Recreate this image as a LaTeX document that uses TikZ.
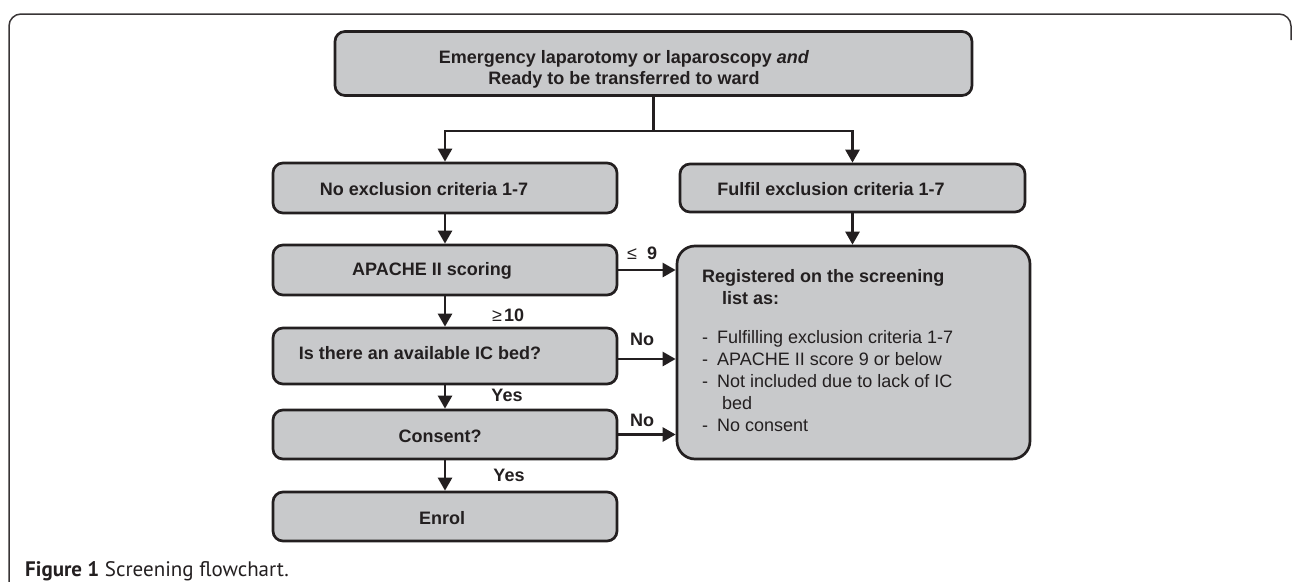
\documentclass[tikz,border=0pt]{standalone}
\usepackage{fontspec}
\setmainfont{Liberation Sans}
\newfontfamily\captionfont{PT Sans}
\usetikzlibrary{arrows.meta}
\definecolor{boxgray}{RGB}{200,201,203}
\definecolor{inkdark}{RGB}{35,31,32}

\begin{document}
\begin{tikzpicture}[x=1pt,y=-1pt,
  box/.style={draw=inkdark,fill=boxgray,line width=2.7pt,rounded corners=10pt,inner sep=0pt},
  txt/.style={font=\fontsize{18}{21}\selectfont\bfseries,text=inkdark,inner sep=0pt},
  arr/.style={draw=inkdark,line width=2.6pt,-{Triangle[width=14pt,length=13pt]}}]
  \useasboundingbox (0,0) rectangle (1292,581);

  % frame
  \draw[line width=1.5pt,draw=inkdark!90,rounded corners=12pt] (9,590) -- (9,14) -- (1291,14) -- (1291,40);

  % boxes
  \node[box,minimum width=637pt,minimum height=64pt] (entry) at (653.5,63.5) {};
  \node[box,minimum width=344pt,minimum height=50pt] (noexcl) at (445,188) {};
  \node[box,minimum width=345pt,minimum height=48pt] (fulfil) at (852.5,188) {};
  \node[box,minimum width=344pt,minimum height=50pt] (apache) at (445,270) {};
  \node[box,minimum width=344pt,minimum height=56pt] (icbed) at (445,356) {};
  \node[box,minimum width=344pt,minimum height=49pt] (consent) at (445,434.5) {};
  \node[box,minimum width=344pt,minimum height=49pt] (enrol) at (445,516.5) {};
  \node[box,rounded corners=18pt,minimum width=353pt,minimum height=213pt] (register) at (853.5,352.5) {};

  % box texts
  \node[txt,align=center] (entrytxt) at (624,69) {Emergency laparotomy or laparoscopy \textit{and}\\Ready to be transferred to ward};
  \node[txt] (noexcltxt) at (424,189) {No exclusion criteria 1-7};
  \node[txt] (fulfiltxt) at (831,189) {Fulfil exclusion criteria 1-7};
  \node[txt] (apachetxt) at (432,271) {APACHE II scoring};
  \node[txt] (icbedtxt) at (420,353) {Is there an available IC bed?};
  \node[txt] (consenttxt) at (440,436) {Consent?};
  \node[txt] (enroltxt) at (442,518) {Enrol};
  \node[txt,font=\fontsize{18}{22}\selectfont,align=left,anchor=north west] (registertxt) at (702,269)
    {\textbf{Registered on the screening}\\
     \hspace*{20pt}\textbf{list as:}\\[17pt]
     \makebox[15pt][l]{-}Fulfilling exclusion criteria 1-7\\
     \makebox[15pt][l]{-}APACHE II score 9 or below\\
     \makebox[15pt][l]{-}Not included due to lack of IC\\
     \hspace*{20pt}bed\\
     \makebox[15pt][l]{-}No consent};

  % connectors
  \coordinate (split) at (653.5,131);
  \draw[draw=inkdark,line width=2.6pt] (entry.south) -- (split);
  \draw[arr] (split) -| (noexcl.north);
  \draw[arr] (split) -| (fulfil.north);
  \draw[arr] (noexcl.south) -- (apache.north);
  \draw[arr] (fulfil.south) -- (fulfil.south |- register.north);
  \draw[arr] (apache.east) -- (apache.east -| register.west);
  \draw[arr] (apache.south) -- (icbed.north);
  \draw[arr] ([yshift=-3pt]icbed.east) -- ([yshift=-3pt]icbed.east -| register.west);
  \draw[arr] (icbed.south) -- (consent.north);
  \draw[arr] (consent.east) -- (consent.east -| register.west);
  \draw[arr] (consent.south) -- (enrol.north);

  % labels
  \node[txt,anchor=west] (lowlbl) at (627,253) {\mdseries ≤\hspace{10pt}\bfseries 9};
  \node[txt,anchor=west] (highlbl) at (492,315) {\mdseries ≥\hspace{2pt}\bfseries 10};
  \node[txt] (nolbla) at (642,339) {No};
  \node[txt] (yeslbla) at (507,395) {Yes};
  \node[txt] (nolblb) at (642,420) {No};
  \node[txt] (yeslblb) at (509,475) {Yes};

  % caption
  \node[anchor=base west,font=\captionfont\fontsize{21}{25}\selectfont,text=inkdark,inner sep=0pt] (caption) at (25,576)
    {\textbf{Figure 1} Screening flowchart.};
\end{tikzpicture}
\end{document}
